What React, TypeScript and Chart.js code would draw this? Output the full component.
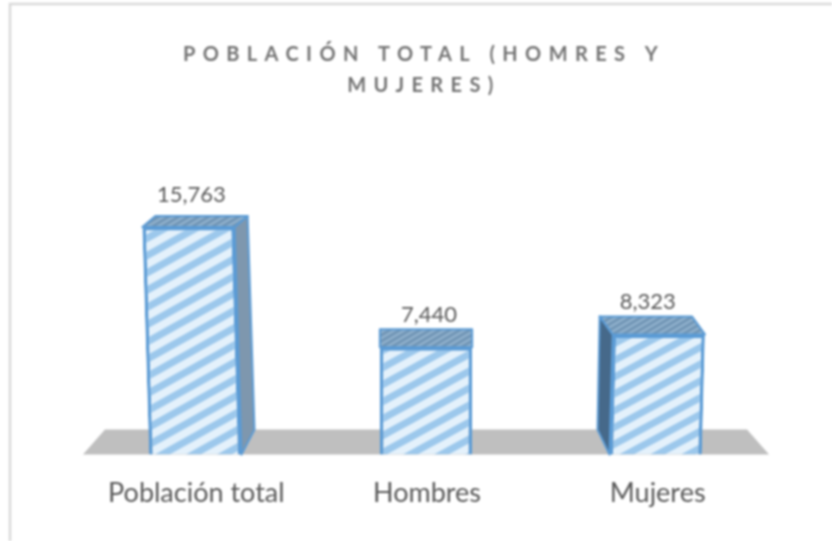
import React, { useEffect, useRef } from "react";
import { Chart, registerables } from "chart.js";

Chart.register(...registerables);

const categories = ["Población total", "Hombres", "Mujeres"];
const population = [15763, 7440, 8323];
const titleLines = ["POBLACIÓN TOTAL (HOMRES Y", "MUJERES)"];

const FONT = "Lato, 'Open Sans', sans-serif";
const TEXT = "#595959";
const EDGE = "#5b9bd5";
// per-bar 3D look: skew of the front face, x shift, depth vector at top and at the floor
const LOOK = [
  { k: 0.03, sx: -1, topDx: 13, topDy: -11, botDx: 13, botDy: -25, labelDx: -5, side: "#7e97ae", sideAt: "right" },
  { k: 0, sx: -1, topDx: 0, topDy: -18, botDx: 0, botDy: 0, labelDx: 2, side: "#7e97ae", sideAt: "none" },
  { k: -0.026, sx: -2, topDx: -13, topDy: -18, botDx: -12, botDy: -25, labelDx: -10, side: "#46698a", sideAt: "left" },
];

function stripes(ctx: CanvasRenderingContext2D, bg: string, fg: string, w: number, h: number) {
  const c = document.createElement("canvas");
  c.width = w;
  c.height = h;
  const p = c.getContext("2d")!;
  p.fillStyle = bg;
  p.fillRect(0, 0, w, h);
  p.strokeStyle = fg;
  p.lineWidth = h * 0.42;
  for (let i = -1; i <= 1; i++) {
    p.beginPath();
    p.moveTo(-w, h + i * h + h);
    p.lineTo(2 * w, i * h - h);
    p.stroke();
  }
  return ctx.createPattern(c, "repeat")!;
}

function quad(ctx: CanvasRenderingContext2D, pts: number[][], fill: any, stroke = EDGE, lw = 2) {
  ctx.beginPath();
  ctx.moveTo(pts[0][0], pts[0][1]);
  pts.slice(1).forEach((p) => ctx.lineTo(p[0], p[1]));
  ctx.closePath();
  ctx.fillStyle = fill;
  ctx.fill();
  if (lw > 0) {
    ctx.strokeStyle = stroke;
    ctx.lineWidth = lw;
    ctx.lineJoin = "round";
    ctx.stroke();
  }
}

const scene = {
  id: "scene",
  beforeDraw(chart: any) {
    const { ctx, width, height } = chart;
    ctx.save();
    ctx.fillStyle = "#fff";
    ctx.fillRect(0, 0, width, height);
    ctx.strokeStyle = "#d9d9d9";
    ctx.lineWidth = 2.5;
    ctx.beginPath();
    ctx.moveTo(10, height);
    ctx.lineTo(10, 4);
    ctx.lineTo(width, 4);
    ctx.stroke();
    ctx.restore();
  },
  beforeDatasetDraw(chart: any, args: any) {
    const { ctx, chartArea: a } = chart;
    const base = a.bottom;
    // floor
    quad(ctx, [[a.left + 2, base], [a.right - 4, base], [a.right - 26, base - 25], [a.left + 24, base - 25]], "#bfbfbf", "#bfbfbf", 0);
    const top = stripes(ctx, "#8fb0cc", "#6f93b3", 10, 6);
    args.meta.data.forEach((el: any, i: number) => {
      const L = LOOK[i];
      const p = el.getProps(["x", "y", "width", "base"], true);
      const h = p.y - p.base;
      const l = p.x - p.width / 2 + L.sx;
      const r = p.x + p.width / 2 + L.sx;
      const tl = [l + L.k * h, p.y];
      const tr = [r + L.k * h, p.y];
      const bl = [l, p.base];
      const br = [r, p.base];
      ctx.save();
      if (L.sideAt === "right") {
        quad(ctx, [tr, [tr[0] + L.topDx, tr[1] + L.topDy], [br[0] + L.botDx, br[1] + L.botDy], br], L.side);
      } else if (L.sideAt === "left") {
        quad(ctx, [tl, [tl[0] + L.topDx, tl[1] + L.topDy], [bl[0] + L.botDx, bl[1] + L.botDy], bl], L.side);
      }
      quad(ctx, [tl, [tl[0] + L.topDx, tl[1] + L.topDy], [tr[0] + L.topDx, tr[1] + L.topDy], tr], top);
      ctx.restore();

      ctx.save();
      ctx.transform(1, 0, L.k, 1, L.sx - L.k * p.base, 0);
      el.draw(ctx, a);
      ctx.restore();
    });
    return false;
  },
  afterDatasetsDraw(chart: any) {
    const { ctx } = chart;
    const meta = chart.getDatasetMeta(0);
    ctx.save();
    ctx.font = `22px ${FONT}`;
    ctx.fillStyle = TEXT;
    ctx.textAlign = "center";
    ctx.textBaseline = "middle";
    meta.data.forEach((el: any, i: number) => {
      ctx.fillText(population[i].toLocaleString("en-US"), el.x + LOOK[i].labelDx, el.y - 32);
    });
    ctx.restore();
  },
  afterLayout(chart: any) {
    const tb = chart.titleBlock;
    if (tb && !tb.__spaced) {
      tb.__spaced = true;
      const draw = tb.draw.bind(tb);
      tb.draw = () => {
        const c = chart.ctx;
        c.save();
        c.translate(-3, 1);
        (c as any).letterSpacing = "7.4px";
        draw();
        c.restore();
      };
    }
  },
};

export default function App() {
  const ref = useRef<HTMLCanvasElement>(null);
  useEffect(() => {
    const canvas = ref.current!;
    const ctx = canvas.getContext("2d")!;
    const hatch = stripes(ctx, "#e4f1fb", "#9cc8ec", 31, 17);
    const chart = new Chart(canvas, {
      type: "bar",
      data: {
        labels: categories,
        datasets: [
          {
            data: population,
            backgroundColor: hatch,
            borderColor: EDGE,
            borderWidth: 3.5,
            barPercentage: 0.4,
            categoryPercentage: 1,
          },
        ],
      },
      options: {
        responsive: false,
        animation: false,
        layout: { padding: { left: 81, right: 59, top: 30, bottom: 10 } },
        plugins: {
          legend: { display: false },
          tooltip: { enabled: false },
          title: {
            display: true,
            text: titleLines,
            color: "#737373",
            font: { family: FONT, size: 20, weight: "bold", lineHeight: 1.55 },
            padding: { top: 8, bottom: 8 },
          },
        },
        scales: {
          x: {
            grid: { display: false, drawTicks: false },
            border: { display: false },
            ticks: { color: TEXT, font: { family: FONT, size: 27 }, padding: 22, maxRotation: 0 },
          },
          y: { display: false, min: 0, max: 24000 },
        },
      },
      plugins: [scene],
    });
    return () => chart.destroy();
  }, []);
  return (
    <div style={{ position: "absolute", left: 0, top: 0, width: 832, height: 541, overflow: "hidden" }}>
      <canvas ref={ref} width={832} height={541} style={{ display: "block", filter: "blur(1px)" }} />
    </div>
  );
}
